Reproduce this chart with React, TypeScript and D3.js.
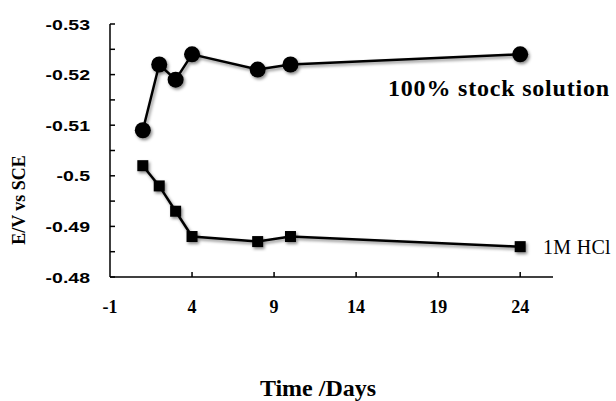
import React from "react";
import * as d3 from "d3";

const days = [1, 2, 3, 4, 8, 10, 24];
const stockValues = [-0.509, -0.522, -0.519, -0.524, -0.521, -0.522, -0.524];
const hclValues = [-0.502, -0.498, -0.493, -0.488, -0.487, -0.488, -0.486];
const yTickValues = [-0.53, -0.52, -0.51, -0.5, -0.49, -0.48];
const yTickLabels = ["-0.53", "-0.52", "-0.51", "-0.5", "-0.49", "-0.48"];
const yMinorTicks = [-0.53, -0.525, -0.52, -0.515, -0.51, -0.505, -0.5, -0.495, -0.49, -0.485, -0.48];
const xTickValues = [-1, 4, 9, 14, 19, 24];
const xTickLabels = ["-1", "4", "9", "14", "19", "24"];
const stockLabel = "100% stock solution";
const hclLabel = "1M HCl";
const yTitle = "E/V vs SCE";
const xTitle = "Time /Days";

export default function App() {
  const W = 616, H = 401;
  const x = d3.scaleLinear().domain([-1, 26]).range([110, 553]);
  const y = d3.scaleLinear().domain([-0.53, -0.48]).range([24, 277]);
  const line = d3
    .line<[number, number]>()
    .x((d) => x(d[0]))
    .y((d) => y(d[1]));
  const stockPts: [number, number][] = days.map((d, i) => [d, stockValues[i]]);
  const hclPts: [number, number][] = days.map((d, i) => [d, hclValues[i]]);
  const serif = "'Liberation Serif', 'Times New Roman', serif";
  const sans = "'Liberation Sans', Arial, sans-serif";
  const [x0, x1] = x.range();
  const [y0, y1] = y.range();
  return (
    <svg width={W} height={H} style={{ position: "absolute", left: 0, top: 0, background: "#fff" }}>
      <defs>
        <filter id="sh" x="-50%" y="-50%" width="200%" height="200%">
          <feDropShadow dx="1.5" dy="2" stdDeviation="1.5" floodColor="#000" floodOpacity="0.45" />
        </filter>
      </defs>
      {/* axes */}
      <line x1={x0} x2={x0} y1={y0} y2={y1} stroke="#000" strokeWidth={1.5} />
      <line x1={x0} x2={x1} y1={y1} y2={y1} stroke="#000" strokeWidth={1.5} />
      {yMinorTicks.map((v, i) => (
        <line key={"ym" + i} x1={x0} x2={x0 + 5} y1={y(v)} y2={y(v)} stroke="#000" strokeWidth={1.5} />
      ))}
      {yTickValues.map((v, i) => (
        <text
          key={"yl" + i}
          transform={`translate(90,${y(v) + 5.5}) scale(1.3,1)`}
          textAnchor="end"
          fontFamily={sans}
          fontWeight="bold"
          fontSize={15}
          fill="#000"
        >
          {yTickLabels[i]}
        </text>
      ))}
      {xTickValues.map((v, i) => (
        <g key={"xt" + i}>
          {v !== -1 && <line x1={x(v)} x2={x(v)} y1={y1} y2={y1 - 5} stroke="#000" strokeWidth={1.5} />}
          <text x={x(v)} y={313} textAnchor="middle" fontFamily={serif} fontWeight="bold" fontSize={18} fill="#000">
            {xTickLabels[i]}
          </text>
        </g>
      ))}
      {/* series */}
      <g filter="url(#sh)">
        <path d={line(stockPts) || ""} fill="none" stroke="#000" strokeWidth={2.5} />
        <path d={line(hclPts) || ""} fill="none" stroke="#000" strokeWidth={2.5} />
        {stockPts.map((p, i) => (
          <circle key={"c" + i} cx={x(p[0])} cy={y(p[1])} r={8} fill="#000" />
        ))}
        {hclPts.map((p, i) => (
          <rect key={"s" + i} x={x(p[0]) - 5.5} y={y(p[1]) - 5.5} width={11} height={11} fill="#000" />
        ))}
      </g>
      <text x={388} y={96} fontFamily={serif} fontWeight="bold" fontSize={24} letterSpacing={0.8} fill="#000">
        {stockLabel}
      </text>
      <text x={543} y={254} fontFamily={serif} fontSize={20} letterSpacing={0.3} fill="#000">
        {hclLabel}
      </text>
      <text
        transform={`translate(25,200) rotate(-90)`}
        textAnchor="middle"
        fontFamily={serif}
        fontWeight="bold"
        fontSize={18}
        fill="#000"
      >
        {yTitle}
      </text>
      <text x={318} y={396} textAnchor="middle" fontFamily={serif} fontWeight="bold" fontSize={24} fill="#000">
        {xTitle}
      </text>
    </svg>
  );
}
